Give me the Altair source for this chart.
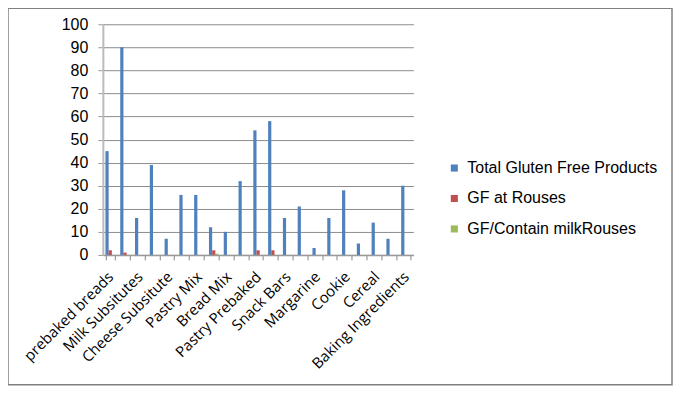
import altair as alt
import pandas as pd

categories = [
    "prebaked breads", "", "Milk Subsitutes", "", "Cheese Subsitute", "",
    "Pastry Mix", "", "Bread Mix", "", "Pastry Prebaked", "", "Snack Bars", "",
    "Margarine", "", "Cookie", "", "Cereal", "", "Baking Ingredients",
]
total_gf = [45, 90, 16, 39, 7, 26, 26, 12, 10, 32, 54, 58, 16, 21, 3, 16, 28, 5, 14, 7, 30]
gf_rouses = [2, 1, 0, 0, 0, 0, 0, 2, 0, 0, 2, 2, 0, 0, 0, 0, 0, 0, 0, 0, 0]
gf_milk_rouses = [0, 0, 0, 0, 0, 0, 0, 0.5, 0, 0, 0, 0, 0, 0, 0, 0, 0, 0, 0, 0, 0]
series = ["Total Gluten Free Products", "GF at Rouses", "GF/Contain milkRouses"]
colors = ["#4F81BD", "#C0504D", "#9BBB59"]

rows = []
for i in range(len(categories)):
    for s, vals in zip(series, [total_gf, gf_rouses, gf_milk_rouses]):
        rows.append({"idx": i, "series": s, "value": vals[i]})
df = pd.DataFrame(rows)

label_arr = "[" + ",".join("'" + c.replace("'", "\\'") + "'" for c in categories) + "]"

bars = alt.Chart(df).mark_bar().encode(
    x=alt.X("idx:O", title=None,
            scale=alt.Scale(paddingInner=0.35, paddingOuter=0.175),
            axis=alt.Axis(labelExpr=label_arr + "[datum.value]", labelAngle=-45,
                          labelAlign="right", labelBaseline="middle",
                          labelFont="Open Sans", labelFontSize=15,
                          labelColor="black", labelPadding=14,
                          tickBand="extent", tickSize=5, tickColor="#888",
                          domainColor="#999", domainWidth=1.5, labelOverlap=False)),
    xOffset=alt.XOffset("series:N", sort=series, scale=alt.Scale(paddingInner=0, paddingOuter=0)),
    y=alt.Y("value:Q", title=None,
            scale=alt.Scale(domain=[0, 100], nice=False),
            axis=alt.Axis(values=list(range(0, 101, 10)), grid=True, gridColor="#8c8c8c",
                          gridWidth=1, domainColor="#bbb", domainWidth=2,
                          tickSize=5, tickColor="#999", labelFont="Liberation Sans",
                          labelFontSize=16, labelColor="black", labelPadding=10)),
    color=alt.Color("series:N", sort=series,
                    scale=alt.Scale(domain=series, range=colors),
                    legend=alt.Legend(title=None, orient="none", legendX=344, legendY=136,
                                      symbolType="square", symbolSize=50, symbolStrokeWidth=0,
                                      labelFont="Liberation Sans", labelFontSize=16,
                                      labelColor="black", rowPadding=14.5, padding=0,
                                      labelOffset=5, labelLimit=300)),
)

frame = alt.Chart(alt.Data(values=[{"a": 1}])).mark_rect(
    fill="transparent", stroke="#808080", strokeWidth=1.5, clip=False
).encode(
    x=alt.value(-95), x2=alt.value(570), y=alt.value(-16), y2=alt.value(361)
)

chart = alt.layer(bars, frame).properties(
    width=311, height=231,
    padding={"left": 95, "top": 16, "right": 262, "bottom": 132},
    autosize=alt.AutoSizeParams(type="none"),
).configure_view(strokeWidth=0)

chart.save("out.html", embed_options={"renderer": "svg", "actions": False})
